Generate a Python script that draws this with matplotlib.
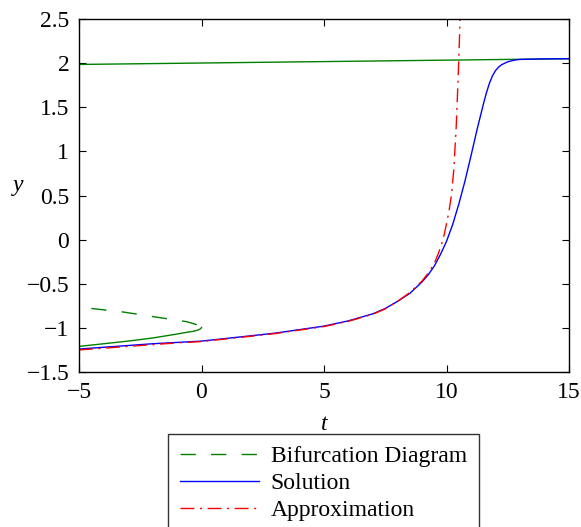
import matplotlib
matplotlib.use("Agg")
import matplotlib.pyplot as plt
from matplotlib.lines import Line2D

plt.rcParams['font.family'] = ['Liberation Serif', 'DejaVu Serif']
plt.rcParams['mathtext.fontset'] = 'stix'

# Solution curve
sol_t = [-5, -4, -3, -2, -1, 0, 1, 2, 3, 4, 5, 6, 7, 7.5, 8, 8.5, 9, 9.25, 9.5,
         9.75, 10, 10.25, 10.5, 10.75, 11, 11.25, 11.5, 11.625, 11.75, 11.875,
         12, 12.125, 12.25, 12.5, 12.75, 13, 14, 15]
sol_y = [-1.24, -1.22, -1.20, -1.18, -1.165, -1.15, -1.12, -1.09, -1.06, -1.02,
         -0.98, -0.92, -0.84, -0.78, -0.70, -0.61, -0.48, -0.40, -0.30,
         -0.17, -0.02, 0.17, 0.40, 0.66, 0.95, 1.25, 1.53, 1.66, 1.77, 1.855,
         1.915, 1.955, 1.982, 2.015, 2.033, 2.042, 2.048, 2.05]

# Approximation curve
app_t = [-5, -4, -3, -2, -1, 0, 1, 2, 3, 4, 5, 6, 7, 7.5, 8, 8.5, 9, 9.25, 9.5,
         9.65, 9.8, 9.9, 10.0, 10.1, 10.2, 10.3, 10.4, 10.47, 10.52, 10.56]
app_y = [-1.25, -1.23, -1.21, -1.19, -1.17, -1.155, -1.125, -1.095, -1.065, -1.025,
         -0.985, -0.925, -0.845, -0.785, -0.70, -0.60, -0.47, -0.38, -0.27,
         -0.17, -0.05, 0.05, 0.18, 0.32, 0.50, 0.80, 1.30, 1.80, 2.20, 2.55]

# Bifurcation diagram branches
bif_up_t = [-4.5, -3.2, -1.8, -0.6, -0.3, -0.12, -0.03, 0.0]
bif_up_y = [-0.78, -0.82, -0.88, -0.93, -0.955, -0.97, -0.985, -0.995]
bif_lo_t = [0.0, -0.03, -0.12, -0.3, -0.6, -1.0, -2.0, -3.0, -4.0, -5.0]
bif_lo_y = [-0.995, -1.008, -1.022, -1.037, -1.05, -1.07, -1.115, -1.15, -1.18, -1.21]
bif_top_t = [-5, 15]
bif_top_y = [1.985, 2.05]

xticks = [-5, 0, 5, 10, 15]
yticks = [-1.5, -1, -0.5, 0, 0.5, 1, 1.5, 2, 2.5]

green = '#008000'
blue = '#0000ff'
red = '#ff0000'
dash_g = (0, (11, 11))
dash_r = (0, (10, 4, 1.5, 4))
FS = 17

fig = plt.figure(figsize=(5.81, 5.27), dpi=100)
ax = fig.add_axes([79/581, 1-372/527, (569-79)/581, (372-19)/527])

ax.plot(bif_up_t, bif_up_y, color=green, lw=1.0, linestyle=dash_g)
ax.plot(bif_lo_t, bif_lo_y, color=green, lw=1.0)
ax.plot(bif_top_t, bif_top_y, color=green, lw=1.0)
ax.plot(sol_t, sol_y, color=blue, lw=1.0)
ax.plot(app_t, app_y, color=red, lw=1.0, linestyle=dash_r)

ax.set_xlim(-5, 15)
ax.set_ylim(-1.5, 2.5)
ax.set_xticks(xticks)
ax.set_yticks(yticks)
ax.set_xticklabels([f'{v:g}'.replace('-', '\u2212') for v in xticks])
ax.set_yticklabels([f'{v:g}'.replace('-', '\u2212') for v in yticks])
ax.tick_params(direction='in', top=True, right=True, length=5, width=0.8,
               labelsize=FS)
ax.tick_params(axis='y', pad=7)
ax.tick_params(axis='x', pad=7)
for s in ax.spines.values():
    s.set_linewidth(1.0)

ax.set_xlabel('t', fontstyle='italic', fontsize=FS, va='baseline')
ax.xaxis.set_label_coords(0.5, -(430-372)/353)
ax.set_ylabel('y', fontstyle='italic', fontsize=FS, rotation=0,
              va='baseline', ha='center')
ax.yaxis.set_label_coords((18-79)/490, 1-(191-19)/353)

handles = [Line2D([], [], color=green, lw=1.0, linestyle=dash_g),
           Line2D([], [], color=blue, lw=1.0),
           Line2D([], [], color=red, lw=1.0, linestyle=dash_r)]
labels = ['Bifurcation Diagram', 'Solution', 'Approximation']
leg = fig.legend(handles, labels, loc='upper left',
                 bbox_to_anchor=(168/581, 1-434/527), fontsize=FS,
                 frameon=True, fancybox=False, edgecolor='black',
                 handlelength=3.35, handletextpad=0.5, labelspacing=0.22,
                 borderpad=0.5, borderaxespad=0)
leg.get_frame().set_linewidth(1.0)

fig.savefig('out.png', dpi=100)
